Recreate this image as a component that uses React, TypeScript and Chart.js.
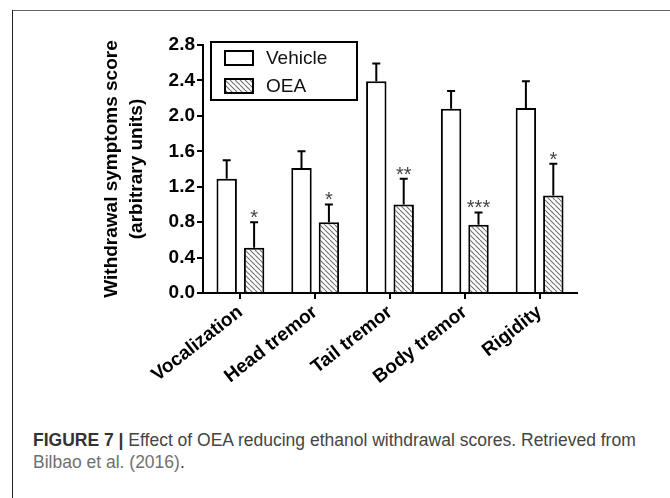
import React, { useEffect, useRef } from 'react';
import { Chart, registerables } from 'chart.js';

Chart.register(...registerables);

const categories = ['Vocalization', 'Head tremor', 'Tail tremor', 'Body tremor', 'Rigidity'];
const seriesLabels = ['Vehicle', 'OEA'];
const vehicleValues = [1.29, 1.41, 2.39, 2.08, 2.09];
const vehicleErrors = [0.21, 0.19, 0.2, 0.2, 0.3];
const oeaValues = [0.51, 0.8, 1.0, 0.77, 1.1];
const oeaErrors = [0.29, 0.2, 0.29, 0.14, 0.36];
const significance = ['*', '*', '**', '***', '*'];
const yTicks = [0, 0.4, 0.8, 1.2, 1.6, 2.0, 2.4, 2.8];
const yTitle = ['Withdrawal symptoms score', '(arbitrary units)'];

const FONT = "'Liberation Sans', Arial, sans-serif";

function makeHatch(ctx: CanvasRenderingContext2D) {
  const s = 5;
  const c = document.createElement('canvas');
  c.width = s;
  c.height = s;
  const g = c.getContext('2d')!;
  g.fillStyle = '#ffffff';
  g.fillRect(0, 0, s, s);
  g.strokeStyle = '#707070';
  g.lineWidth = 1.1;
  for (const k of [-s, 0, s]) {
    g.beginPath();
    g.moveTo(k, 0);
    g.lineTo(k + s, s);
    g.stroke();
  }
  return ctx.createPattern(c, 'repeat')!;
}

const errorBarPlugin = {
  id: 'errorBars',
  afterDatasetsDraw(chart: any) {
    const ctx = chart.ctx as CanvasRenderingContext2D;
    const y = chart.scales.y;
    const vals = [vehicleValues, oeaValues];
    const errs = [vehicleErrors, oeaErrors];
    ctx.save();
    ctx.strokeStyle = '#000';
    ctx.lineWidth = 2;
    for (let d = 0; d < 2; d++) {
      const meta = chart.getDatasetMeta(d);
      meta.data.forEach((bar: any, i: number) => {
        const x = bar.x;
        const top = y.getPixelForValue(vals[d][i]);
        const end = y.getPixelForValue(vals[d][i] + errs[d][i]);
        ctx.beginPath();
        ctx.moveTo(x, top);
        ctx.lineTo(x, end);
        ctx.moveTo(x - 4, end);
        ctx.lineTo(x + 4, end);
        ctx.stroke();
        if (d === 1) {
          ctx.fillStyle = '#444';
          ctx.font = `20px ${FONT}`;
          ctx.textAlign = 'center';
          ctx.textBaseline = 'alphabetic';
          ctx.fillText(significance[i], x, end + 2);
        }
      });
    }
    ctx.restore();
  },
};

const legendPlugin = {
  id: 'boxLegend',
  afterDraw(chart: any) {
    const ctx = chart.ctx as CanvasRenderingContext2D;
    const a = chart.chartArea;
    const bx = a.left + 8;
    const by = a.top - 3;
    ctx.save();
    ctx.strokeStyle = '#000';
    ctx.lineWidth = 2;
    ctx.strokeRect(bx, by, 146, 58);
    chart.data.datasets.forEach((ds: any, i: number) => {
      const sy = by + 9 + i * 28;
      ctx.fillStyle = ds.backgroundColor;
      ctx.fillRect(bx + 14, sy, 28, 14);
      ctx.strokeRect(bx + 14, sy, 28, 14);
      ctx.fillStyle = '#111';
      ctx.font = `19px ${FONT}`;
      ctx.textAlign = 'left';
      ctx.textBaseline = 'middle';
      ctx.fillText(ds.label, bx + 55, sy + 8);
    });
    ctx.restore();
  },
};

export default function App() {
  const ref = useRef<HTMLCanvasElement>(null);
  useEffect(() => {
    const canvas = ref.current!;
    const ctx = canvas.getContext('2d')!;
    const hatch = makeHatch(ctx);
    const axisFont = { family: FONT, weight: 'bold' as const, size: 19 };
    const chart = new Chart(canvas, {
      type: 'bar',
      data: {
        labels: categories,
        datasets: [
          {
            label: seriesLabels[0],
            data: vehicleValues,
            backgroundColor: '#ffffff',
            borderColor: '#000',
            borderWidth: 2,
            categoryPercentage: 0.733,
            barPercentage: 0.745,
          },
          {
            label: seriesLabels[1],
            data: oeaValues,
            backgroundColor: hatch as any,
            borderColor: '#000',
            borderWidth: 2,
            categoryPercentage: 0.733,
            barPercentage: 0.745,
          },
        ],
      },
      options: {
        animation: false,
        responsive: false,
        layout: { padding: { left: 95, top: 45, right: 93, bottom: 0 } },
        plugins: { legend: { display: false }, tooltip: { enabled: false } },
        scales: {
          x: {
            grid: { display: true, drawOnChartArea: false, drawTicks: true, tickLength: 6, color: '#000', lineWidth: 2, offset: false },
            border: { display: true, color: '#000', width: 2 },
            ticks: { color: '#000', font: axisFont, minRotation: 38, maxRotation: 38, autoSkip: false, padding: 2 },
            afterFit: (s: any) => {
              s.height = 107;
            },
          },
          y: {
            min: 0,
            max: 2.8,
            afterBuildTicks: (s: any) => {
              s.ticks = yTicks.map((v) => ({ value: v }));
            },
            grid: { display: true, drawOnChartArea: false, drawTicks: true, tickLength: 6, color: '#000', lineWidth: 2 },
            border: { display: true, color: '#000', width: 2 },
            ticks: { color: '#000', font: axisFont, padding: 2, callback: (v: any) => Number(v).toFixed(1) },
            title: {
              display: true,
              text: yTitle,
              color: '#000',
              font: { family: FONT, weight: 'bold' as const, size: 19, lineHeight: 1.33 },
              padding: { top: 4, bottom: 0 },
            },
            afterFit: (s: any) => {
              s.width = 108;
            },
          },
        },
      },
      plugins: [errorBarPlugin, legendPlugin],
    });
    return () => chart.destroy();
  }, []);

  return (
    <div style={{ position: 'fixed', left: 0, top: 0, width: 670, height: 498, background: '#fff', overflow: 'hidden' }}>
      <div style={{ position: 'absolute', left: 12, top: 10, width: 700, height: 1, background: '#666' }} />
      <div style={{ position: 'absolute', left: 12, top: 10, width: 1, height: 500, background: '#222' }} />
      <canvas ref={ref} width={670} height={400} style={{ position: 'absolute', left: 0, top: 0, display: 'block' }} />
      <div
        style={{
          position: 'absolute',
          left: 33,
          top: 429,
          fontFamily: FONT,
          fontSize: 17.5,
          lineHeight: '22px',
          color: '#444',
          whiteSpace: 'nowrap',
        }}
      >
        <span style={{ fontWeight: 'bold', color: '#333' }}>FIGURE 7 | </span>
        Effect of OEA reducing ethanol withdrawal scores. Retrieved from
        <br />
        <span style={{ color: '#707070' }}>Bilbao et al. (2016)</span>.
      </div>
    </div>
  );
}
